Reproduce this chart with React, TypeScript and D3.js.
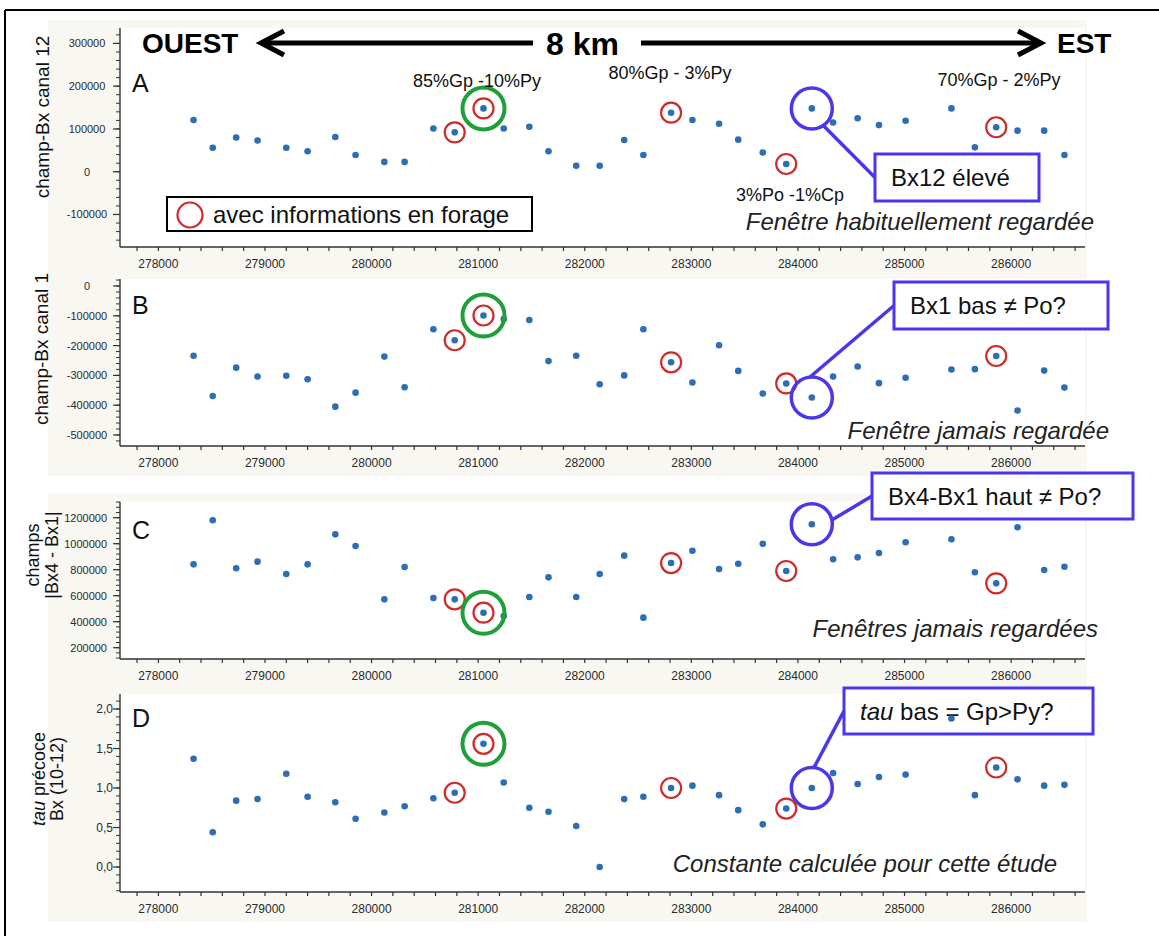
import React from "react";
import * as d3 from "d3";

const FONT = "'Liberation Sans', Arial, Helvetica, sans-serif";

// Station eastings (m) along the 8 km W–E profile
const eastings = [
  278330, 278510, 278730, 278930, 279200, 279400, 279660, 279850, 280120, 280310,
  280580, 280780, 281050, 281240, 281480, 281660, 281920, 282140, 282370, 282550,
  282810, 283010, 283260, 283440, 283670, 283890, 284130, 284330, 284560, 284760,
  285010, 285440, 285660, 285860, 286060, 286310, 286500,
];

// A – champ Bx, canal 12
const bx12 = [
  121000, 56000, 80000, 73000, 56000, 48000, 81000, 39000, 23000, 23000,
  101000, 92000, 148000, 101000, 105000, 48000, 14000, 14000, 74000, 39000,
  138000, 121000, 112000, 75000, 45000, 18000, 148000, 115000, 125000, 109000,
  119000, 148000, 57000, 104000, 96000, 96000, 39000,
];

// B – champ Bx, canal 1
const bx1 = [
  -234000, -369000, -274000, -304000, -301000, -313000, -405000, -358000, -237000, -340000,
  -145000, -182000, -99000, -111000, -114000, -252000, -234000, -330000, -300000, -145000,
  -256000, -324000, -199000, -285000, -361000, -327000, -374000, -304000, -270000, -326000,
  -308000, -280000, -279000, -235000, -418000, -284000, -341000,
];

// C – |Bx4 - Bx1|
const bx4MinusBx1 = [
  841000, 1180000, 811000, 862000, 767000, 841000, 1072000, 982000, 572000, 821000,
  582000, 572000, 469000, 444000, 590000, 741000, 590000, 767000, 908000, 431000,
  851000, 946000, 805000, 846000, 1000000, 790000, 1149000, 880000, 895000, 928000,
  1011000, 1034000, 780000, 695000, 1126000, 798000, 823000,
];

// D – tau précoce Bx (10-12)
const tauEarly = [
  1.37, 0.44, 0.84, 0.86, 1.18, 0.89, 0.82, 0.61, 0.69, 0.77,
  0.87, 0.94, 1.56, 1.07, 0.75, 0.7, 0.52, 0.0, 0.86, 0.89,
  1.0, 1.03, 0.91, 0.72, 0.54, 0.74, 1.0, 1.19, 1.05, 1.14,
  1.17, 1.88, 0.91, 1.26, 1.11, 1.03, 1.04,
];

// Stations with drill-hole information, the reference hole, the flagged station
const drillIdx = [11, 12, 20, 25, 33];
const keyIdx = 12;
const flagIdx = 26;

// Assay labels shown above panel A
const assayLabels = ["85%Gp -10%Py", "80%Gp - 3%Py", "70%Gp - 2%Py", "3%Po -1%Cp"];

const xMajorTicks = [278000, 279000, 280000, 281000, 282000, 283000, 284000, 285000, 286000];

const PLOT_LEFT = 120;
const PLOT_RIGHT = 1085;
const DOT = "#2d6db5";
const RED = "#d02b2b";
const GREEN = "#1e9f38";
const BLUE = "#4a36ee";
const AXIS = "#333";

const commaFmt = d3.formatLocale({
  decimal: ",",
  thousands: ".",
  grouping: [3],
  currency: ["", ""],
  minus: "-",
}).format(".1f");
const intFmt = (v: number) => String(Math.round(v));

type Callout = {
  box: { x: number; y: number; w: number; h: number };
  angle: number;
  text: React.ReactNode;
};

type Panel = {
  key: string;
  values: number[];
  domain: [number, number];
  range: [number, number];
  major: number[];
  minorStep: number;
  fmt: (v: number) => string;
  tickAnchor: "middle" | "end";
  tickX: number;
  tickSize: number;
  letterY: number;
  note: string;
  noteX: number;
  noteY: number;
  callout: Callout;
  yTitle: { lines: React.ReactNode[]; xs: number[]; cy: number; size: number };
};

const panels: Panel[] = [
  {
    key: "A",
    values: bx12,
    domain: [-176000, 336000],
    range: [247, 28],
    major: [-100000, 0, 100000, 200000, 300000],
    minorStep: 20000,
    fmt: intFmt,
    tickAnchor: "middle",
    tickX: 87,
    tickSize: 11,
    letterY: 92,
    note: "Fenêtre habituellement regardée",
    noteX: 1094,
    noteY: 230,
    callout: {
      box: { x: 875, y: 154, w: 164, h: 47 },
      angle: 56,
      text: "Bx12 élevé",
    },
    yTitle: { lines: ["champ-Bx canal 12"], xs: [42], cy: 117, size: 19 },
  },
  {
    key: "B",
    values: bx1,
    domain: [-537000, 23500],
    range: [446, 279],
    major: [-500000, -400000, -300000, -200000, -100000, 0],
    minorStep: 20000,
    fmt: intFmt,
    tickAnchor: "middle",
    tickX: 87,
    tickSize: 11,
    letterY: 314,
    note: "Fenêtre jamais regardée",
    noteX: 1109,
    noteY: 439,
    callout: {
      box: { x: 894, y: 282, w: 214, h: 47 },
      angle: -95,
      text: "Bx1 bas ≠ Po?",
    },
    yTitle: { lines: ["champ-Bx canal 1"], xs: [41], cy: 349, size: 19 },
  },
  {
    key: "C",
    values: bx4MinusBx1,
    domain: [113000, 1323000],
    range: [659, 501.7],
    major: [200000, 400000, 600000, 800000, 1000000, 1200000],
    minorStep: 40000,
    fmt: intFmt,
    tickAnchor: "end",
    tickX: 107,
    tickSize: 11,
    letterY: 539,
    note: "Fenêtres jamais regardées",
    noteX: 1098,
    noteY: 637,
    callout: {
      box: { x: 872, y: 473, w: 261, h: 46 },
      angle: -12,
      text: "Bx4-Bx1 haut ≠ Po?",
    },
    yTitle: { lines: ["champs", "|Bx4 - Bx1|"], xs: [33, 52], cy: 555, size: 18 },
  },
  {
    key: "D",
    values: tauEarly,
    domain: [-0.316, 2.19],
    range: [892, 694],
    major: [0, 0.5, 1, 1.5, 2],
    minorStep: 0.1,
    fmt: commaFmt,
    tickAnchor: "end",
    tickX: 113,
    tickSize: 12,
    letterY: 727,
    note: "Constante calculée pour cette étude",
    noteX: 1057,
    noteY: 872,
    callout: {
      box: { x: 844, y: 688, w: 249, h: 46 },
      angle: -84,
      text: (
        <>
          <tspan fontStyle="italic">tau</tspan> bas = Gp&gt;Py?
        </>
      ),
    },
    yTitle: {
      lines: [
        <>
          <tspan fontStyle="italic">tau</tspan> précoce
        </>,
        "Bx (10-12)",
      ],
      xs: [39, 57],
      cy: 779,
      size: 18,
    },
  },
];

function Arrow({ x1, x2, y }: { x1: number; x2: number; y: number }) {
  // x2 is the tip
  const dir = Math.sign(x2 - x1);
  const back = x2 - dir * 23;
  return (
    <g stroke="#000" strokeWidth={5} fill="none" strokeLinecap="butt" strokeLinejoin="miter">
      <line x1={x1} y1={y} x2={x2 - dir * 3} y2={y} />
      <polyline points={`${back},${y - 12} ${x2},${y} ${back},${y + 12}`} />
    </g>
  );
}

function PanelView({ p }: { p: Panel }) {
  const x = d3.scaleLinear().domain([277640, 286693]).range([PLOT_LEFT, PLOT_RIGHT]);
  const y = d3.scaleLinear().domain(p.domain).range(p.range);
  const bottom = p.range[0];
  const top = p.range[1];
  const xMinor = d3.range(277800, 286601, 200);
  const start = Math.ceil(p.domain[0] / p.minorStep);
  const end = Math.floor(p.domain[1] / p.minorStep);
  const yMinor = d3.range(start, end + 1).map((k) => k * p.minorStep);

  const { box, angle } = p.callout;
  const cx = x(eastings[flagIdx]);
  const cy = y(p.values[flagIdx]);
  const r = 20.5;
  const a = (angle * Math.PI) / 180;
  const lx1 = cx + r * Math.cos(a);
  const ly1 = cy + r * Math.sin(a);

  return (
    <g>
      {/* chart backdrop */}
      <rect x={48} y={top - 8} width={1039} height={bottom - top + 38} fill="#f8f7f2" />
      <rect x={PLOT_LEFT} y={top} width={PLOT_RIGHT - PLOT_LEFT} height={bottom - top} fill="#fff" />

      {/* y axis */}
      <line x1={PLOT_LEFT} x2={PLOT_LEFT} y1={top} y2={bottom} stroke={AXIS} strokeWidth={1.4} />
      {yMinor.map((v, i) => (
        <line key={"ym" + i} x1={PLOT_LEFT - 4} x2={PLOT_LEFT} y1={y(v)} y2={y(v)} stroke={AXIS} strokeWidth={1} />
      ))}
      {p.major.map((v) => (
        <g key={"yM" + v}>
          <line x1={PLOT_LEFT - 7} x2={PLOT_LEFT} y1={y(v)} y2={y(v)} stroke={AXIS} strokeWidth={1.2} />
          <text
            x={p.tickX}
            y={y(v) + 4}
            textAnchor={p.tickAnchor}
            fontSize={p.tickSize}
            fill="#2a2a2a"
          >
            {p.fmt(v)}
          </text>
        </g>
      ))}

      {/* x axis */}
      <line x1={PLOT_LEFT} x2={PLOT_RIGHT} y1={bottom} y2={bottom} stroke={AXIS} strokeWidth={1.4} />
      {xMinor.map((v) => (
        <line key={"xm" + v} x1={x(v)} x2={x(v)} y1={bottom} y2={bottom + 4} stroke={AXIS} strokeWidth={1.2} />
      ))}
      {xMajorTicks.map((v) => (
        <text key={"xl" + v} x={x(v)} y={bottom + 21} textAnchor="middle" fontSize={12} fill="#2a2a2a">
          {v}
        </text>
      ))}

      {/* y title */}
      {p.yTitle.lines.map((line, i) => (
        <text
          key={"yt" + i}
          transform={`translate(${p.yTitle.xs[i]},${p.yTitle.cy}) rotate(-90)`}
          textAnchor="middle"
          dominantBaseline="central"
          fontSize={p.yTitle.size}
          fill="#111"
        >
          {line}
        </text>
      ))}

      {/* panel letter */}
      <text x={132} y={p.letterY} fontSize={25} fill="#111">
        {p.key}
      </text>

      {/* annotation note */}
      <text x={p.noteX} y={p.noteY} textAnchor="end" fontSize={24} fontStyle="italic" fill="#222">
        {p.note}
      </text>

      {/* callout box */}
      <rect x={box.x} y={box.y} width={box.w} height={box.h} fill="#fff" stroke={BLUE} strokeWidth={3} />
      <text x={box.x + 16} y={box.y + box.h / 2 + 8.5} fontSize={24} fill="#111">
        {p.callout.text}
      </text>

      {/* stations */}
      {p.values.map((v, i) => (
        <circle key={"d" + i} cx={x(eastings[i])} cy={y(v)} r={3.3} fill={DOT} />
      ))}

      {/* drill-hole rings */}
      {drillIdx.map((i) => (
        <circle
          key={"r" + i}
          cx={x(eastings[i])}
          cy={y(p.values[i])}
          r={10}
          fill="none"
          stroke={RED}
          strokeWidth={2.2}
        />
      ))}
      <circle
        cx={x(eastings[keyIdx])}
        cy={y(p.values[keyIdx])}
        r={21}
        fill="none"
        stroke={GREEN}
        strokeWidth={4}
      />

      {/* flagged station and leader */}
      <circle cx={cx} cy={cy} r={r} fill="none" stroke={BLUE} strokeWidth={3.5} />
      <line x1={lx1} y1={ly1} x2={box.x} y2={box.y + box.h / 2} stroke={BLUE} strokeWidth={3.5} />
    </g>
  );
}

export default function App() {
  return (
    <svg
      width={1159}
      height={936}
      style={{ position: "absolute", left: 0, top: 0, background: "#fff" }}
      fontFamily={FONT}
    >
      <rect x={0} y={0} width={1159} height={936} fill="#fff" />
      {panels.map((p) => (
        <PanelView key={p.key} p={p} />
      ))}

      {/* assay labels above panel A */}
      <g fontSize={18} fill="#111" textAnchor="middle">
        <text x={477} y={87}>{assayLabels[0]}</text>
        <text x={670} y={79}>{assayLabels[1]}</text>
        <text x={999} y={86}>{assayLabels[2]}</text>
        <text x={790} y={201}>{assayLabels[3]}</text>
      </g>

      {/* legend */}
      <rect x={167} y={197} width={365} height={34} fill="#fff" stroke="#000" strokeWidth={2} />
      <circle cx={190} cy={215} r={12.5} fill="none" stroke={RED} strokeWidth={2.2} />
      <text x={213} y={223} fontSize={24} fill="#111">
        avec informations en forage
      </text>

      {/* profile orientation */}
      <text x={142} y={53} fontSize={28} fontWeight="bold" fill="#000">
        OUEST
      </text>
      <Arrow x1={533} x2={261} y={43} />
      <text x={546} y={55} fontSize={32} fontWeight="bold" fill="#000">
        8 km
      </text>
      <Arrow x1={641} x2={1041} y={43} />
      <text x={1057} y={53} fontSize={28} fontWeight="bold" fill="#000">
        EST
      </text>

      {/* frame */}
      <line x1={5} y1={10} x2={1159} y2={10} stroke="#000" strokeWidth={2} />
      <line x1={5} y1={10} x2={5} y2={936} stroke="#000" strokeWidth={2} />
    </svg>
  );
}
